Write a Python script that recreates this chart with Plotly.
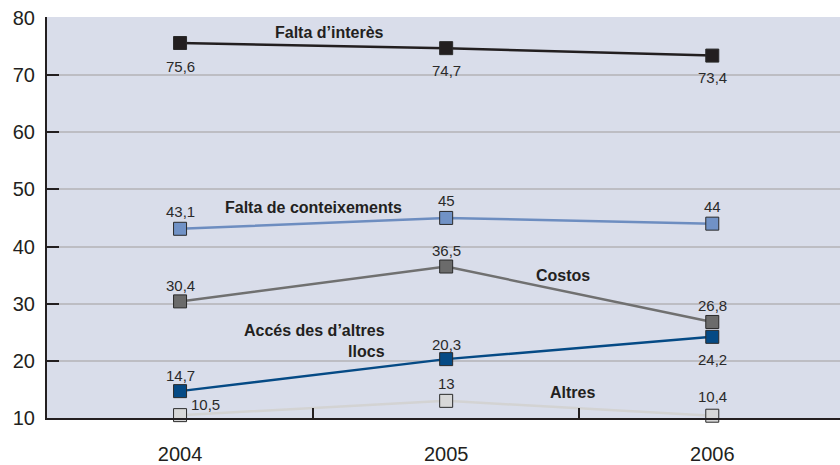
import plotly.graph_objects as go

years = ["2004", "2005", "2006"]
interes = [75.6, 74.7, 73.4]
coneixements = [43.1, 45, 44]
costos = [30.4, 36.5, 26.8]
acces = [14.7, 20.3, 24.2]
altres = [10.5, 13, 10.4]
y_ticks = [10, 20, 30, 40, 50, 60, 70, 80]

FONT = "Liberation Sans, Arial, sans-serif"

# name, values, line colour, marker colour, label offsets (px: dx, dy up)
series = [
    ("Falta d’interès", interes, "#231f20", "#231f20", [(0, -23), (0, -22), (0, -22)]),
    ("Falta de conteixements", coneixements, "#6d8dc0", "#7192c6", [(0, 17), (0, 17), (0, 17)]),
    ("Costos", costos, "#707070", "#6b6b6b", [(0, 16), (0, 16), (0, 16)]),
    ("Accés des d’altres llocs", acces, "#054a85", "#054a85", [(0, 16), (0, 15), (0, -23)]),
    ("Altres", altres, "#d3d3d3", "#d8d8d8", [(25, 11), (0, 17), (0, 19)]),
]

def fmt(v):
    return ("%g" % v).replace(".", ",")

fig = go.Figure()
for name, vals, lc, mc, offs in series:
    fig.add_trace(go.Scatter(
        x=years, y=vals, name=name, mode="lines+markers",
        line=dict(color=lc, width=2.5),
        marker=dict(symbol="square", size=13, color=mc, line=dict(color="#2a2a2a", width=1)),
        cliponaxis=False, showlegend=False,
    ))
    for i, (yv, (dx, dy)) in enumerate(zip(vals, offs)):
        fig.add_annotation(
            x=i, y=yv, xref="x", yref="y", text=fmt(yv), showarrow=False,
            xshift=dx, yshift=dy, xanchor="center", yanchor="middle",
            font=dict(family=FONT, size=15, color="#2a2a2a"),
        )

labels = [
    ("Falta d’interès", 0.56, 77.4, "center"),
    ("Falta de conteixements", 0.50, 46.8, "center"),
    ("Costos", 1.44, 35.0, "center"),
    ("Accés des d’altres<br>llocs", 0.778, 23.4, "right"),
    ("Altres", 1.474, 14.4, "center"),
]
for txt, x, y, al in labels:
    fig.add_annotation(
        x=x, y=y, xref="x", yref="y", text="<b>" + txt + "</b>", showarrow=False,
        xanchor=al, align=al, yanchor="middle",
        font=dict(family=FONT, size=16, color="#231f20"),
    )

fig.update_layout(
    width=840, height=465,
    margin=dict(l=47, r=0, t=17, b=47),
    paper_bgcolor="white", plot_bgcolor="#d9ddea",
    font=dict(family=FONT, color="#231f20"),
    xaxis=dict(
        type="category", range=[-0.5, 2.48], tickson="boundaries",
        ticks="inside", ticklen=10, tickwidth=1.5, tickcolor="#231f20",
        showgrid=False, showline=True, linecolor="#231f20", linewidth=2,
        tickfont=dict(size=20, color="#231f20"), ticklabelstandoff=17, zeroline=False,
    ),
    yaxis=dict(
        range=[10, 80.15], tickvals=y_ticks, ticks="inside", ticklen=12, tickwidth=1.5,
        tickcolor="#231f20", showgrid=True, gridcolor="#bdbdc3", gridwidth=1.5,
        showline=True, linecolor="#231f20", linewidth=2, zeroline=False,
        tickfont=dict(size=20, color="#231f20"), ticklabelstandoff=6,
    ),
)

fig.write_html(
    "out.html",
    config={"displayModeBar": False},
    post_script="document.body.style.margin='0';document.body.style.overflow='hidden';",
)
